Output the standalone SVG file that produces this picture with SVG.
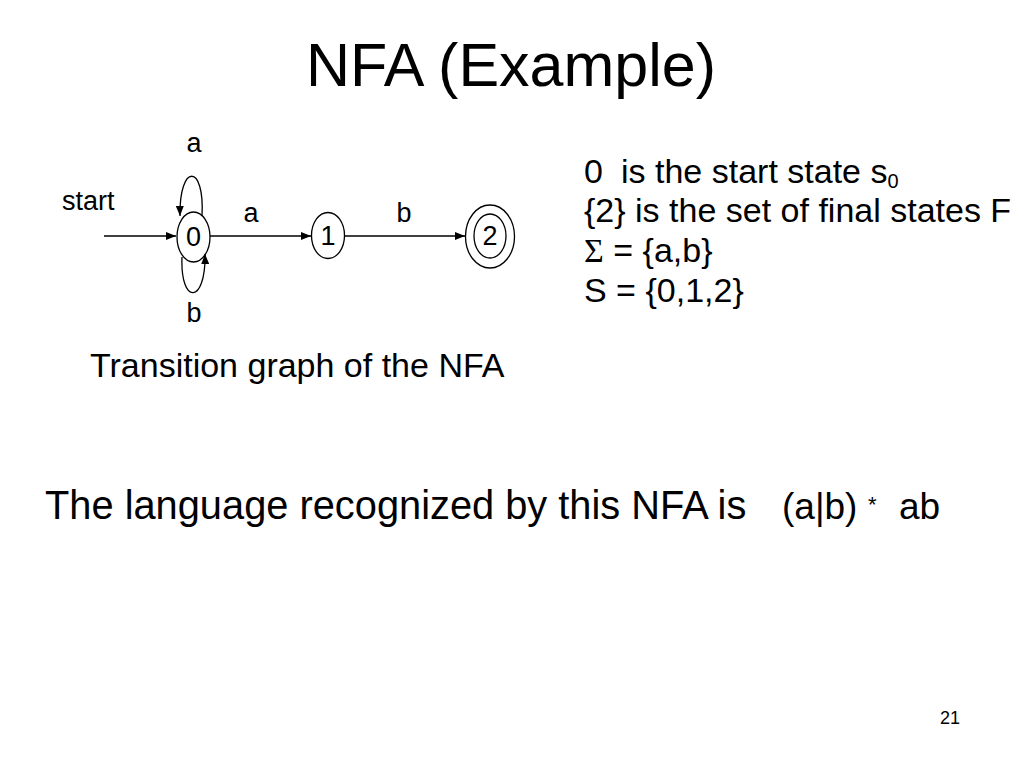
<svg xmlns="http://www.w3.org/2000/svg" width="1024" height="768" viewBox="0 0 1024 768">
<style>
text{font-family:"Liberation Sans",Arial,sans-serif;fill:#000}
.st{fill:none;stroke:#000;stroke-width:1.3}
.lbl{font-size:27px;text-anchor:middle}
.body{font-size:34px}
</style>
<defs>
<marker id="ah" viewBox="0 0 10 8" refX="10" refY="4" markerWidth="10" markerHeight="8" markerUnits="userSpaceOnUse" orient="auto">
<path d="M0,0 L10,4 L0,8 Z" fill="#000"/>
</marker>
</defs>
<rect width="1024" height="768" fill="#fff"/>
<text x="511" y="86" font-size="61" text-anchor="middle">NFA (Example)</text>

<g id="connectors">
<path class="st" d="M104,236 L176,236" marker-end="url(#ah)"/>
<path class="st" d="M210,236 L311,236" marker-end="url(#ah)"/>
<path class="st" d="M345,236 L465,236" marker-end="url(#ah)"/>
<path class="st" d="M202,216 C205,163 179,163 180,216" marker-end="url(#ah)"/>
<path class="st" d="M182,257 C180,305 206,305 205,254" marker-end="url(#ah)"/>
<text class="lbl" x="194" y="152">a</text>
<text class="lbl" x="194" y="322">b</text>
<text class="lbl" x="251" y="222">a</text>
<text class="lbl" x="404" y="222">b</text>
<text x="62" y="210" font-size="27">start</text>
</g>

<g id="node0">
<ellipse class="st" cx="193.5" cy="237" rx="16.5" ry="25"/>
<text class="lbl" x="193.5" y="246">0</text>
</g>
<g id="node1">
<ellipse class="st" cx="328" cy="235.5" rx="16.5" ry="23"/>
<text class="lbl" x="328" y="245">1</text>
</g>
<g id="node2">
<ellipse class="st" cx="490" cy="236.5" rx="24.5" ry="31.5"/>
<ellipse class="st" cx="490" cy="236" rx="16" ry="22"/>
<text class="lbl" x="490" y="245">2</text>
</g>

<text class="body" x="90" y="377">Transition graph of the NFA</text>

<text class="body" x="584" y="183">0 <tspan x="621">is the start state s</tspan><tspan font-size="20" dy="5">0</tspan></text>
<text class="body" x="584" y="222">{2} is the set of final states F</text>
<text class="body" x="584" y="262"><tspan font-family="Liberation Serif,serif">Σ</tspan> = {a,b}</text>
<text class="body" x="584" y="302">S = {0,1,2}</text>

<text x="45" y="519" font-size="39.8">The language recognized by this NFA is</text>
<text x="782" y="519" font-size="37">(a|b)</text>
<text x="868" y="512" font-size="22">*</text>
<text x="899" y="519" font-size="37">ab</text>

<text x="950" y="724" font-size="18" text-anchor="middle">21</text>
</svg>
